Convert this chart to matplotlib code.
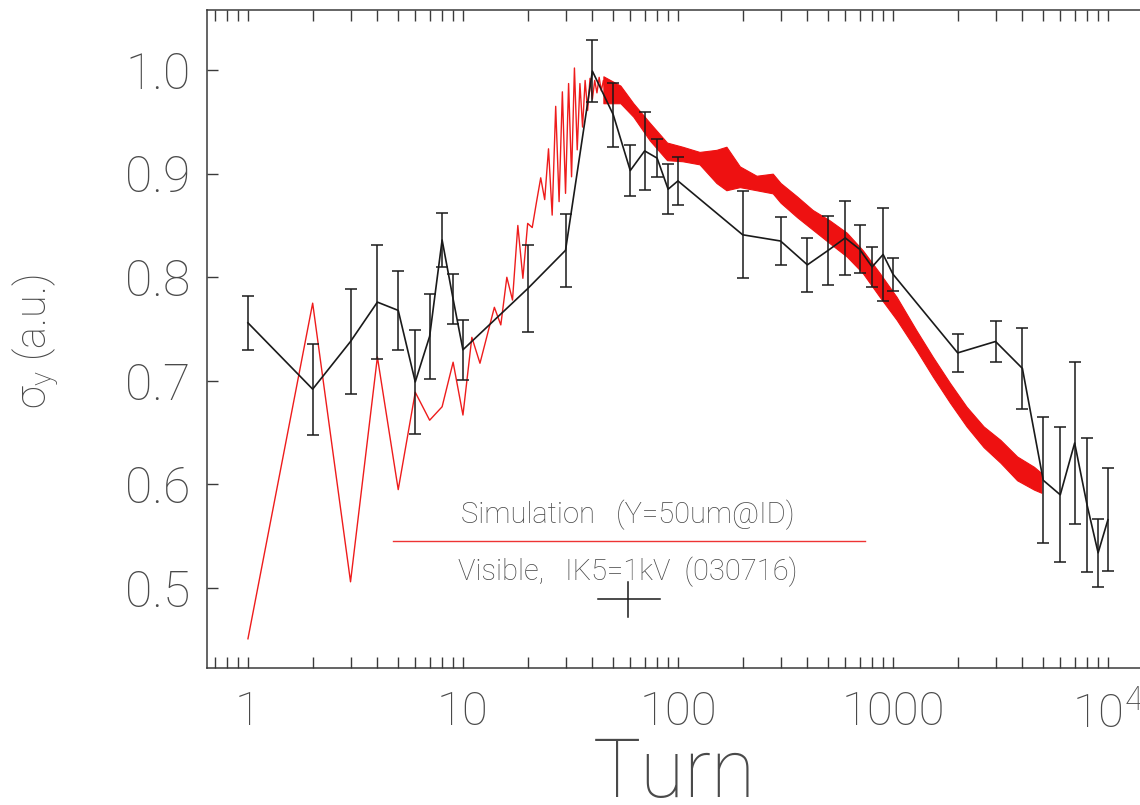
import matplotlib
matplotlib.use("Agg")
import matplotlib.pyplot as plt
from matplotlib.lines import Line2D
from matplotlib.ticker import FixedLocator, FixedFormatter, NullFormatter

# Measured beam size (visible light monitor), with error bars
meas_turn = [1, 2, 3, 4, 5, 6, 7, 8, 9, 10, 20, 30, 40, 50, 60, 70, 80, 90, 100,
             200, 300, 400, 500, 600, 700, 800, 900, 1000,
             2000, 3000, 4000, 5000, 6000, 7000, 8000, 9000, 10000]
meas_sigma = [0.756, 0.692, 0.738, 0.776, 0.768, 0.699, 0.743, 0.836, 0.779, 0.730,
              0.789, 0.826, 0.999, 0.957, 0.903, 0.922, 0.915, 0.885, 0.893,
              0.841, 0.835, 0.812, 0.826, 0.838, 0.827, 0.810, 0.822, 0.803,
              0.727, 0.738, 0.712, 0.604, 0.590, 0.640, 0.580, 0.534, 0.566]
meas_err = [0.026, 0.044, 0.051, 0.055, 0.038, 0.050, 0.041, 0.026, 0.024, 0.029,
            0.042, 0.035, 0.030, 0.031, 0.025, 0.038, 0.018, 0.024, 0.023,
            0.042, 0.023, 0.026, 0.033, 0.036, 0.023, 0.019, 0.045, 0.016,
            0.018, 0.020, 0.039, 0.061, 0.065, 0.078, 0.065, 0.033, 0.050]

# Simulation, turn-by-turn for the first 50 turns
sim_turn = list(range(1, 51))
sim_sigma = [0.451, 0.775, 0.506, 0.723, 0.595, 0.689, 0.662, 0.675, 0.718, 0.667,
             0.742, 0.717, 0.745, 0.771, 0.754, 0.800, 0.778, 0.850, 0.799, 0.852,
             0.848, 0.873, 0.896, 0.875, 0.924, 0.860, 0.965, 0.873, 0.979, 0.881,
             0.987, 0.897, 1.002, 0.923, 0.987, 0.945, 0.990, 0.961, 0.992, 0.972,
             0.990, 0.978, 0.993, 0.980, 0.990, 0.978, 0.988, 0.975, 0.985, 0.976]

# Simulation beyond 45 turns: spread of the turn-by-turn values (lower / upper)
band_turn = [45, 54, 62, 74, 89, 105, 126, 151, 168, 194, 232, 276, 300, 358,
             423, 507, 610, 724, 868, 1040, 1283, 1534, 1840, 2200, 2640,
             3160, 3780, 4530, 4900]
band_lo = [0.968, 0.968, 0.955, 0.932, 0.913, 0.912, 0.909, 0.891, 0.884, 0.887,
           0.884, 0.881, 0.872, 0.858, 0.846, 0.833, 0.820, 0.804, 0.781, 0.759,
           0.730, 0.704, 0.679, 0.656, 0.636, 0.621, 0.604, 0.595, 0.592]
band_hi = [0.994, 0.985, 0.968, 0.949, 0.930, 0.926, 0.921, 0.923, 0.926, 0.907,
           0.898, 0.900, 0.891, 0.878, 0.865, 0.855, 0.843, 0.826, 0.804, 0.781,
           0.749, 0.723, 0.698, 0.675, 0.656, 0.643, 0.627, 0.617, 0.611]

xtick_pos = [1, 10, 100, 1000, 10000]
xtick_lab = ["1", "10", "100", "1000", r"$\mathregular{10^4}$"]
ytick_pos = [0.5, 0.6, 0.7, 0.8, 0.9, 1.0]
ytick_lab = ["0.5", "0.6", "0.7", "0.8", "0.9", "1.0"]

FONT = "Roboto"
TXT = "#4a4a4a"
FRAME = "#3a3a3a"
plt.rcParams["font.family"] = [FONT, "DejaVu Sans"]
plt.rcParams["mathtext.default"] = "regular"

W, H = 1140, 805
fig = plt.figure(figsize=(W / 100, H / 100), dpi=100)
fig.patch.set_facecolor("white")
ax = fig.add_axes([207 / W, 137 / H, 953 / W, 658 / H])

# simulation
ax.plot(sim_turn, sim_sigma, color="#ee1c1c", lw=1.0, zorder=2)
ax.fill_between(band_turn, band_lo, band_hi, color="#ee1111", lw=0.8,
                edgecolor="#ee1111", zorder=2)

# measurement
ax.errorbar(meas_turn, meas_sigma, yerr=meas_err, color="#1a1a1a", lw=1.2,
            elinewidth=1.1, capsize=4, capthick=1.1, zorder=3)

ax.set_xscale("log")
ax.set_xlim(0.645, 17460)
ax.set_ylim(0.4228, 1.058)

ax.xaxis.set_major_locator(FixedLocator(xtick_pos))
ax.xaxis.set_major_formatter(FixedFormatter(xtick_lab))
minor = [m * 10.0 ** e for e in range(-1, 5) for m in range(2, 10)]
ax.xaxis.set_minor_locator(FixedLocator(minor))
ax.xaxis.set_minor_formatter(NullFormatter())
ax.yaxis.set_major_locator(FixedLocator(ytick_pos))
ax.yaxis.set_major_formatter(FixedFormatter(ytick_lab))

ax.tick_params(axis="x", which="both", direction="in", top=True, bottom=True,
               length=8, width=1.0, color=FRAME, labelsize=34,
               labelcolor=TXT, pad=16)
ax.tick_params(axis="y", which="major", direction="in", left=True, right=True,
               length=8, width=1.0, color=FRAME, labelsize=36,
               labelcolor=TXT, pad=12)
for lab in ax.get_xticklabels() + ax.get_yticklabels():
    lab.set_fontweight("light")
for sp in ax.spines.values():
    sp.set_color(FRAME)
    sp.set_linewidth(1.1)

fig.text(674 / W, 1 - 797 / H, "Turn", fontsize=58, fontweight="light",
         color=TXT, ha="center", va="baseline")
fig.text(36 / W, 1 - 342 / H, r"$\sigma_y$ (a.u.)", rotation=90, fontsize=30,
         fontweight="light", color=TXT, ha="center", va="center")

# legend block
fig.text(628 / W, 1 - 515 / H, "Simulation   (Y=50um@ID)", fontsize=21,
         fontweight="light", color=TXT, ha="center", va="center")
fig.add_artist(Line2D([393 / W, 865 / W], [1 - 541 / H, 1 - 541 / H],
                      transform=fig.transFigure, color="#ee3333", lw=1.0))
fig.text(628 / W, 1 - 572 / H, "Visible,   IK5=1kV  (030716)", fontsize=21,
         fontweight="light", color=TXT, ha="center", va="center")
fig.add_artist(Line2D([598 / W, 660 / W], [1 - 599 / H, 1 - 599 / H],
                      transform=fig.transFigure, color="#1a1a1a", lw=1.1))
fig.add_artist(Line2D([628 / W, 628 / W], [1 - 582 / H, 1 - 617 / H],
                      transform=fig.transFigure, color="#1a1a1a", lw=1.1))

fig.savefig("out.png", dpi=100)
